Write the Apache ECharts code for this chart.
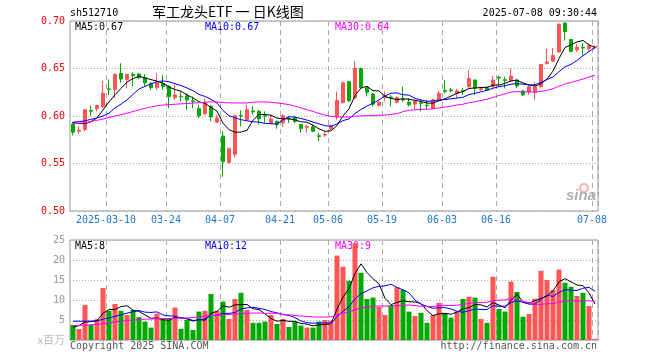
<!DOCTYPE html>
<html><head><meta charset="utf-8">
<script src="https://cdn.jsdelivr.net/npm/echarts@6/dist/echarts.min.js"></script>
<style>html,body{margin:0;padding:0;background:#fff}#c{width:660px;height:360px}</style>
</head><body><div id="c"></div>
<script>
const dates = ['2025-02-28','2025-03-03','2025-03-04','2025-03-05','2025-03-06','2025-03-07','2025-03-10','2025-03-11','2025-03-12','2025-03-13','2025-03-14','2025-03-17','2025-03-18','2025-03-19','2025-03-20','2025-03-21','2025-03-24','2025-03-25','2025-03-26','2025-03-27','2025-03-28','2025-03-31','2025-04-01','2025-04-02','2025-04-03','2025-04-07','2025-04-08','2025-04-09','2025-04-10','2025-04-11','2025-04-14','2025-04-15','2025-04-16','2025-04-17','2025-04-18','2025-04-21','2025-04-22','2025-04-23','2025-04-24','2025-04-25','2025-04-28','2025-04-29','2025-04-30','2025-05-06','2025-05-07','2025-05-08','2025-05-09','2025-05-12','2025-05-13','2025-05-14','2025-05-15','2025-05-16','2025-05-19','2025-05-20','2025-05-21','2025-05-22','2025-05-23','2025-05-26','2025-05-27','2025-05-28','2025-05-29','2025-05-30','2025-06-03','2025-06-04','2025-06-05','2025-06-06','2025-06-09','2025-06-10','2025-06-11','2025-06-12','2025-06-13','2025-06-16','2025-06-17','2025-06-18','2025-06-19','2025-06-20','2025-06-23','2025-06-24','2025-06-25','2025-06-26','2025-06-27','2025-06-30','2025-07-01','2025-07-02','2025-07-03','2025-07-04','2025-07-07','2025-07-08'];
const openP = [0.591,0.584,0.5858,0.606,0.6076,0.610,0.6285,0.628,0.6448,0.6385,0.644,0.6441,0.6403,0.6343,0.6298,0.6343,0.631,0.6194,0.6208,0.6212,0.616,0.6076,0.6024,0.610,0.5934,0.5788,0.551,0.5597,0.6005,0.5962,0.6052,0.6049,0.6002,0.592,0.5944,0.5927,0.5975,0.598,0.591,0.5882,0.5885,0.5792,0.580,0.5865,0.5997,0.614,0.6361,0.619,0.6498,0.6298,0.6232,0.6111,0.6195,0.620,0.6146,0.6175,0.6146,0.6125,0.6138,0.6114,0.6083,0.617,0.6268,0.6275,0.6236,0.6266,0.6309,0.6378,0.628,0.6298,0.6309,0.6408,0.6382,0.6371,0.6378,0.6264,0.625,0.625,0.6309,0.6552,0.6576,0.6673,0.6978,0.6805,0.6697,0.6722,0.6708,0.6718];
const closeP = [0.583,0.585,0.6066,0.605,0.611,0.624,0.628,0.6437,0.6389,0.6437,0.6425,0.6403,0.635,0.6298,0.636,0.631,0.6205,0.6222,0.6202,0.617,0.6153,0.6003,0.6135,0.599,0.5979,0.5518,0.5656,0.6003,0.600,0.6066,0.6045,0.5969,0.5998,0.5969,0.591,0.6003,0.597,0.5944,0.5868,0.5889,0.584,0.5785,0.5806,0.590,0.6163,0.635,0.616,0.6503,0.6298,0.625,0.6125,0.6146,0.621,0.619,0.6194,0.6168,0.6118,0.6153,0.6132,0.6108,0.617,0.6239,0.626,0.6268,0.6264,0.626,0.6396,0.6291,0.6288,0.6274,0.6378,0.640,0.6375,0.642,0.6316,0.6222,0.6309,0.6309,0.6541,0.6569,0.6638,0.6968,0.6888,0.668,0.6725,0.6715,0.6743,0.6735];
const lowP = [0.5795,0.581,0.584,0.600,0.605,0.6083,0.622,0.6187,0.635,0.629,0.6316,0.639,0.6316,0.6274,0.6274,0.6274,0.6083,0.617,0.6153,0.6066,0.6083,0.598,0.601,0.5944,0.5927,0.5362,0.5503,0.5563,0.5892,0.5955,0.6014,0.591,0.5927,0.591,0.5865,0.5885,0.5927,0.5927,0.5823,0.5823,0.583,0.5736,0.578,0.585,0.596,0.6135,0.6146,0.6175,0.629,0.6205,0.6101,0.6101,0.6153,0.6101,0.6135,0.6146,0.6101,0.6066,0.6049,0.6066,0.6076,0.616,0.6239,0.625,0.6187,0.6222,0.6298,0.6222,0.6264,0.6264,0.6298,0.6309,0.6291,0.636,0.6291,0.6211,0.6222,0.617,0.6298,0.6541,0.6569,0.6666,0.6795,0.6673,0.6673,0.6638,0.668,0.6708];
const highP = [0.594,0.589,0.607,0.611,0.612,0.637,0.6385,0.6448,0.6555,0.6448,0.6458,0.6455,0.644,0.636,0.6448,0.643,0.6326,0.6326,0.6257,0.624,0.6205,0.6118,0.6187,0.6118,0.6014,0.584,0.5667,0.6014,0.6059,0.6118,0.610,0.6066,0.6049,0.6014,0.5951,0.6024,0.600,0.600,0.591,0.591,0.591,0.5823,0.583,0.591,0.6257,0.6361,0.6368,0.6576,0.651,0.6316,0.624,0.6153,0.6257,0.6222,0.6205,0.6309,0.6187,0.617,0.617,0.617,0.6187,0.6264,0.6378,0.6298,0.6285,0.6298,0.6482,0.6385,0.6309,0.6309,0.6424,0.6424,0.6413,0.650,0.6389,0.6274,0.6326,0.6361,0.6545,0.6708,0.6715,0.6968,0.6985,0.6812,0.676,0.6767,0.676,0.6743];
const volume = [3.75,2.75,8.75,3.75,5.2,13.0,7.3,9.0,7.3,6.25,7.5,5.7,4.6,3.1,6.6,5.2,5.2,8.1,2.8,5.0,2.5,7.1,7.3,11.5,7.3,9.6,5.25,10.25,11.8,7.5,4.3,4.3,4.6,6.25,4.0,5.25,3.25,4.6,3.6,3.1,3.1,4.6,5.0,4.8,21.1,18.3,14.8,24.2,16.8,10.25,10.6,8.3,6.25,8.75,13.2,12.5,7.1,6.0,6.8,4.3,6.25,9.3,6.7,5.6,7.1,10.25,10.8,10.6,5.25,4.3,15.8,7.75,7.1,14.6,12.0,5.8,6.5,10.3,17.3,15.0,12.5,17.6,14.3,13.3,11.0,11.8,8.5,0.3];
// Moving-average values before a full window exists
const ma5Head = [0.593,0.592,0.592,0.594];
const ma10Head = [0.5935,0.594,0.595,0.5965,0.598,0.600,0.603,0.6085,0.6125];
const ma30Head = [0.592,0.5925,0.593,0.5942,0.5955,0.5968,0.5985,0.600,0.6015,0.603,0.6047,0.6065,0.6082,0.6095,0.6107,0.6115,0.612,0.6124,0.6128,0.6132,0.6136,0.614,0.6145,0.615,0.6148,0.6142,0.6138,0.6138,0.6137];
const vma5Head = [3.2,3.6,4.5,4.6];
const vma10Head = [4.7,4.7,4.7,4.7,4.8,5.2,5.5,5.9,6.3];
const vma30Head = [3.6,3.65,3.7,3.8,3.9,4.1,4.3,4.5,4.7,4.9,5.0,5.1,5.2,5.25,5.3,5.35,5.4,5.45,5.45,5.5,5.6,5.8,6.0,6.1,6.2,6.3,6.4,6.5,6.6];
const tickDates = ['2025-03-10','2025-03-24','2025-04-07','2025-04-21','2025-05-06','2025-05-19','2025-06-03','2025-06-16','2025-07-08'];
const priceTicks = [0.50,0.55,0.60,0.65,0.70];
const volTicks = [0,5,10,15,20,25];

const UP = '#ff5555', DOWN = '#00a800';
function movingAvg(src, n, head) {
  return src.map((_, i) => {
    if (i < n - 1) return head[i];
    let s = 0; for (let k = i - n + 1; k <= i; k++) s += src[k];
    return +(s / n).toFixed(4);
  });
}
const kData = dates.map((d, i) => [openP[i], closeP[i], lowP[i], highP[i]]);
const volData = volume.map((v, i) => ({ value: v, itemStyle: { color: closeP[i] >= openP[i] ? UP : DOWN } }));
const isTick = (idx, val) => tickDates.indexOf(val) >= 0;
const MONO = 'DejaVu Sans Mono';

const xBase = (gi, showLabel) => ({
  type: 'category', gridIndex: gi, data: dates, boundaryGap: true,
  axisLine: { show: false }, axisTick: { show: false, interval: isTick },
  axisLabel: {
    show: showLabel, interval: isTick, color: '#1f77d0', fontFamily: MONO, fontSize: 10, margin: 4,
    padding: [0, 6, 0, 0],
    formatter: (v) => v === tickDates[0] ? v : v.slice(5)
  },
  splitLine: { show: true, interval: isTick, lineStyle: { color: '#aaaaaa', width: 1, type: [5, 4] } }
});
const lineS = (name, data, color, xi, yi) => ({
  name, type: 'line', data, xAxisIndex: xi, yAxisIndex: yi, symbol: 'none', smooth: false,
  lineStyle: { color, width: 1 }, itemStyle: { color }, silent: true, z: 5
});

const chart = echarts.init(document.getElementById('c'), null, { renderer: 'canvas' });
chart.setOption({
  animation: false,
  backgroundColor: '#ffffff',
  grid: [
    { left: 70, top: 21, width: 528, height: 190, show: true, borderColor: '#999999', borderWidth: 1, backgroundColor: 'transparent' },
    { left: 70, top: 240, width: 528, height: 100, show: true, borderColor: '#999999', borderWidth: 1, backgroundColor: 'transparent' }
  ],
  xAxis: [xBase(0, true), xBase(1, false)],
  yAxis: [
    { type: 'value', gridIndex: 0, min: priceTicks[0], max: priceTicks[priceTicks.length - 1], interval: 0.05,
      axisLine: { show: false }, axisTick: { show: false },
      axisLabel: { color: '#ff0000', fontFamily: MONO, fontSize: 10, margin: 5, formatter: v => v.toFixed(2) },
      splitLine: { show: true, lineStyle: { color: '#aaaaaa', width: 1, type: [1, 2] } } },
    { type: 'value', gridIndex: 1, min: volTicks[0], max: volTicks[volTicks.length - 1], interval: 5,
      axisLine: { show: false }, axisTick: { show: false },
      axisLabel: { color: '#999999', fontFamily: MONO, fontSize: 10, margin: 5,
        formatter: v => v === 0 ? '{u|x百万}' : String(v),
        rich: { u: { color: '#bbbbbb', fontSize: 11, fontFamily: 'Noto Sans CJK SC' } } },
      splitLine: { show: true, lineStyle: { color: '#aaaaaa', width: 1, type: [1, 2] } } }
  ],
  series: [
    { name: 'K', type: 'candlestick', data: kData, xAxisIndex: 0, yAxisIndex: 0, barWidth: 4,
      itemStyle: { color: UP, color0: DOWN, borderColor: UP, borderColor0: DOWN, borderWidth: 1 }, z: 3 },
    lineS('MA5', movingAvg(closeP, 5, ma5Head), '#000000', 0, 0),
    lineS('MA10', movingAvg(closeP, 10, ma10Head), '#0000ff', 0, 0),
    lineS('MA30', movingAvg(closeP, 30, ma30Head), '#ff00ff', 0, 0),
    { name: 'VOL', type: 'bar', data: volData, xAxisIndex: 1, yAxisIndex: 1, barWidth: 5, z: 3 },
    lineS('VMA5', movingAvg(volume, 5, vma5Head), '#000000', 1, 1),
    lineS('VMA10', movingAvg(volume, 10, vma10Head), '#0000ff', 1, 1),
    lineS('VMA30', movingAvg(volume, 30, vma30Head), '#ff00ff', 1, 1)
  ],
  graphic: [
    { type: 'text', left: 70, top: 8, style: { text: 'sh512710', font: '10px "DejaVu Sans Mono"', fill: '#000' } },
    { type: 'text', left: 152, top: 5, style: { text: '军工龙头ETF 一 日K线图', font: '14px "Noto Sans CJK SC"', fill: '#000' } },
    { type: 'text', right: 63, top: 8, style: { text: '2025-07-08 09:30:44', font: '10px "DejaVu Sans Mono"', fill: '#000' } },
    { type: 'text', left: 75, top: 22, style: { text: 'MA5:0.67', font: '10px "DejaVu Sans Mono"', fill: '#000000' } },
    { type: 'text', left: 205, top: 22, style: { text: 'MA10:0.67', font: '10px "DejaVu Sans Mono"', fill: '#0000ff' } },
    { type: 'text', left: 335, top: 22, style: { text: 'MA30:0.64', font: '10px "DejaVu Sans Mono"', fill: '#ff00ff' } },
    { type: 'text', left: 75, top: 241, style: { text: 'MA5:8', font: '10px "DejaVu Sans Mono"', fill: '#000000' } },
    { type: 'text', left: 205, top: 241, style: { text: 'MA10:12', font: '10px "DejaVu Sans Mono"', fill: '#0000ff' } },
    { type: 'text', left: 335, top: 241, style: { text: 'MA30:9', font: '10px "DejaVu Sans Mono"', fill: '#ff00ff' } },
    { type: 'text', left: 70, top: 341, style: { text: 'Copyright 2025 SINA.COM', font: '10px "DejaVu Sans Mono"', fill: '#555555' } },
    { type: 'text', right: 63, top: 341, style: { text: 'http://finance.sina.com.cn', font: '10px "DejaVu Sans Mono"', fill: '#555555' } },
    { type: 'circle', shape: { cx: 584, cy: 188, r: 4 }, style: { fill: 'none', stroke: '#f6b3b3', lineWidth: 2 } },
    { type: 'text', left: 566, top: 188, style: { text: 'sina', font: 'italic bold 15px "Liberation Sans"', fill: '#b0b0b0' } }
  ]
});
</script></body></html>
